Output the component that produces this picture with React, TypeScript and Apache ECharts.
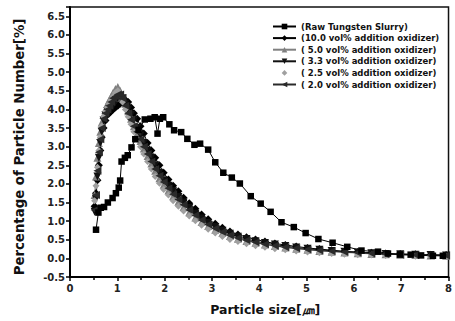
import React, { useEffect, useRef } from "react";
import * as echarts from "echarts";

const legendNames = [
  "(Raw Tungsten Slurry)",
  "(10.0 vol% addition oxidizer)",
  "( 5.0 vol% addition oxidizer)",
  "( 3.3 vol% addition oxidizer)",
  "( 2.5 vol% addition oxidizer)",
  "( 2.0 vol% addition oxidizer)",
];

const rawX = [0.55, 0.6, 0.65, 0.72, 0.8, 0.9, 0.97, 1.03, 1.06, 1.09, 1.16, 1.22, 1.3, 1.38, 1.45, 1.58, 1.7, 1.79, 1.85, 1.9, 1.97, 2.1, 2.2, 2.35, 2.48, 2.63, 2.75, 2.92, 3.07, 3.24, 3.42, 3.59, 3.82, 4.03, 4.24, 4.47, 4.73, 4.98, 5.25, 5.55, 5.86, 6.16, 6.51, 6.72, 6.97, 7.2, 7.42, 7.67, 7.88];
const rawY = [0.77, 1.23, 1.36, 1.38, 1.5, 1.62, 1.75, 1.9, 2.09, 2.6, 2.7, 2.77, 2.98, 3.2, 3.45, 3.73, 3.75, 3.79, 3.35, 3.75, 3.79, 3.6, 3.44, 3.39, 3.21, 3.05, 3.08, 2.92, 2.58, 2.3, 2.17, 2.01, 1.67, 1.47, 1.25, 0.97, 0.84, 0.68, 0.52, 0.42, 0.31, 0.21, 0.18, 0.13, 0.1, 0.1, 0.08, 0.07, 0.07];

const sizeX = [
  0.52, 0.55, 0.58, 0.61, 0.64, 0.67, 0.71, 0.75, 0.79, 0.83,
  0.87, 0.91, 0.96, 1.01, 1.06, 1.11, 1.17, 1.23, 1.29, 1.35,
  1.42, 1.49, 1.56, 1.64, 1.72, 1.8, 1.89, 1.98, 2.08, 2.18,
  2.29, 2.4, 2.52, 2.65, 2.78, 2.92, 3.07, 3.22, 3.38, 3.55,
  3.73, 3.92, 4.12, 4.33, 4.55, 4.78, 5.02, 5.27, 5.53, 5.8,
  6.08, 6.37, 6.67, 6.98, 7.3, 7.62, 7.95,
];

const y100 = [
  1.4, 1.75, 2.1, 2.5, 2.9, 3.25, 3.5, 3.7, 3.85, 3.9,
  3.95, 4.0, 4.05, 4.1, 4.15, 4.2, 4.25, 4.2, 4.05, 3.9,
  3.75, 3.55, 3.35, 3.1, 2.9, 2.7, 2.5, 2.3, 2.12, 1.95,
  1.8, 1.63, 1.48, 1.33, 1.18, 1.05, 0.93, 0.82, 0.72, 0.64,
  0.57, 0.51, 0.45, 0.4, 0.36, 0.32, 0.28, 0.25, 0.22, 0.19,
  0.17, 0.15, 0.13, 0.12, 0.11, 0.1, 0.09,
];
const y50 = [
  1.7, 2.2, 2.7, 3.1, 3.4, 3.65, 3.85, 4.0, 4.15, 4.25,
  4.35, 4.45, 4.55, 4.6, 4.5, 4.35, 4.15, 3.95, 3.75, 3.55,
  3.35, 3.15, 2.95, 2.75, 2.55, 2.35, 2.15, 1.98, 1.82, 1.67,
  1.52, 1.38, 1.24, 1.1, 0.98, 0.87, 0.77, 0.68, 0.6, 0.53,
  0.47, 0.42, 0.37, 0.33, 0.29, 0.26, 0.23, 0.2, 0.18, 0.16,
  0.14, 0.12, 0.11, 0.1, 0.09, 0.08, 0.07,
];
const y33 = [
  1.25, 1.6, 2.2, 2.7, 3.1, 3.4, 3.7, 3.85, 3.95, 4.0,
  4.05, 4.1, 4.2, 4.3, 4.35, 4.3, 4.15, 4.0, 3.85, 3.7,
  3.5, 3.3, 3.1, 2.9, 2.7, 2.5, 2.3, 2.1, 1.95, 1.8,
  1.65, 1.5, 1.35, 1.2, 1.07, 0.95, 0.84, 0.74, 0.66, 0.58,
  0.52, 0.46, 0.41, 0.37, 0.33, 0.29, 0.26, 0.23, 0.2, 0.18,
  0.16, 0.14, 0.12, 0.11, 0.1, 0.09, 0.08,
];
const y25 = [
  1.55, 1.95, 2.45, 2.9, 3.25, 3.55, 3.8, 3.95, 4.05, 4.15,
  4.25, 4.35, 4.45, 4.5, 4.4, 4.2, 4.0, 3.8, 3.6, 3.4,
  3.2, 3.0, 2.8, 2.6, 2.4, 2.2, 2.02, 1.85, 1.7, 1.55,
  1.4, 1.27, 1.14, 1.01, 0.89, 0.78, 0.68, 0.59, 0.51, 0.45,
  0.39, 0.34, 0.3, 0.26, 0.23, 0.2, 0.17, 0.15, 0.13, 0.11,
  0.1, 0.09, 0.08, 0.07, 0.06, 0.06, 0.05,
];
const y20 = [
  1.3, 1.7, 2.35, 2.85, 3.2, 3.5, 3.75, 3.9, 4.0, 4.1,
  4.2, 4.3, 4.35, 4.4, 4.4, 4.3, 4.1, 3.9, 3.72, 3.55,
  3.4, 3.2, 3.0, 2.8, 2.6, 2.4, 2.22, 2.05, 1.88, 1.72,
  1.58, 1.44, 1.3, 1.16, 1.03, 0.91, 0.8, 0.71, 0.62, 0.55,
  0.49, 0.43, 0.38, 0.34, 0.3, 0.27, 0.24, 0.21, 0.19, 0.17,
  0.15, 0.13, 0.12, 0.1, 0.09, 0.08, 0.08,
];

const pairs = (xs: number[], ys: number[]) => xs.map((x, i) => [x, ys[i]]);

export default function App() {
  const ref = useRef<HTMLDivElement>(null);
  useEffect(() => {
    if (!ref.current) return;
    const chart = echarts.init(ref.current, undefined, { renderer: "svg" });
    const font = "DejaVu Sans, Verdana, sans-serif";
    const lineSeries = (
      name: string,
      data: number[][],
      color: string,
      symbol: string,
      size: number,
      rotate = 0,
      lineWidth = 1
    ) => ({
      name,
      type: "line",
      data,
      symbol,
      symbolSize: size,
      symbolRotate: rotate,
      showAllSymbol: true,
      itemStyle: { color },
      lineStyle: { color, width: lineWidth, opacity: lineWidth === 0 ? 0 : 1 },
    });
    chart.setOption({
      animation: false,
      backgroundColor: "#fff",
      grid: {
        left: 70,
        right: 4,
        top: 7,
        bottom: 37,
        show: true,
        borderColor: "#111",
        borderWidth: 1.5,
      },
      legend: {
        data: legendNames,
        orient: "vertical",
        left: 272,
        top: 22,
        itemWidth: 23,
        itemHeight: 7,
        itemGap: 2.6,
        padding: 0,
        textStyle: { fontFamily: font, fontSize: 8.5, fontWeight: "bold", color: "#111" },
      },
      xAxis: {
        type: "value",
        min: 0,
        max: 8,
        interval: 1,
        name: "Particle size[㎛]",
        nameLocation: "middle",
        nameGap: 26,
        nameTextStyle: {
          fontFamily: font,
          fontSize: 12.5,
          fontWeight: "bold",
          color: "#111",
          padding: [0, 0, 0, 12],
        },
        axisLine: { show: true, onZero: false, lineStyle: { color: "#000", width: 2 } },
        axisTick: { show: true, inside: false, length: 4, lineStyle: { color: "#000", width: 1.5 } },
        minorTick: { show: true, splitNumber: 2, length: 3, lineStyle: { color: "#000", width: 1.5 } },
        axisLabel: { fontFamily: font, fontSize: 10, fontWeight: "bold", color: "#222", margin: 6 },
        splitLine: { show: false },
      },
      yAxis: {
        type: "value",
        min: -0.5,
        max: 6.75,
        interval: 0.5,
        name: "Percentage of Particle Number[%]",
        nameLocation: "middle",
        nameGap: 44,
        nameTextStyle: {
          fontFamily: font,
          fontSize: 13.3,
          fontWeight: "bold",
          color: "#111",
          padding: [0, 10, 0, 0],
        },
        axisLine: { show: true, onZero: false, lineStyle: { color: "#000", width: 2 } },
        axisTick: { show: true, inside: false, length: 4, lineStyle: { color: "#000", width: 1.5 } },
        axisLabel: {
          fontFamily: font,
          fontSize: 10,
          fontWeight: "bold",
          color: "#222",
          margin: 5,
          formatter: (v: number) => (Math.abs(v * 2 - Math.round(v * 2)) < 1e-6 ? v.toFixed(1) : ""),
        },
        splitLine: { show: false },
      },
      series: [
        lineSeries(legendNames[1], pairs(sizeX, y100), "#000", "diamond", 8),
        lineSeries(legendNames[2], pairs(sizeX, y50), "#808080", "triangle", 8),
        lineSeries(legendNames[3], pairs(sizeX, y33), "#111", "triangle", 8, 180),
        lineSeries(legendNames[4], pairs(sizeX, y25), "#a0a0a0", "diamond", 7, 0, 0),
        lineSeries(legendNames[5], pairs(sizeX, y20), "#2a2a2a", "triangle", 8, 90),
        lineSeries(legendNames[0], pairs(rawX, rawY), "#000", "rect", 6.5),
      ],
    });
    return () => chart.dispose();
  }, []);
  return <div ref={ref} style={{ width: 455, height: 321, position: "absolute", left: 0, top: 0 }} />;
}
